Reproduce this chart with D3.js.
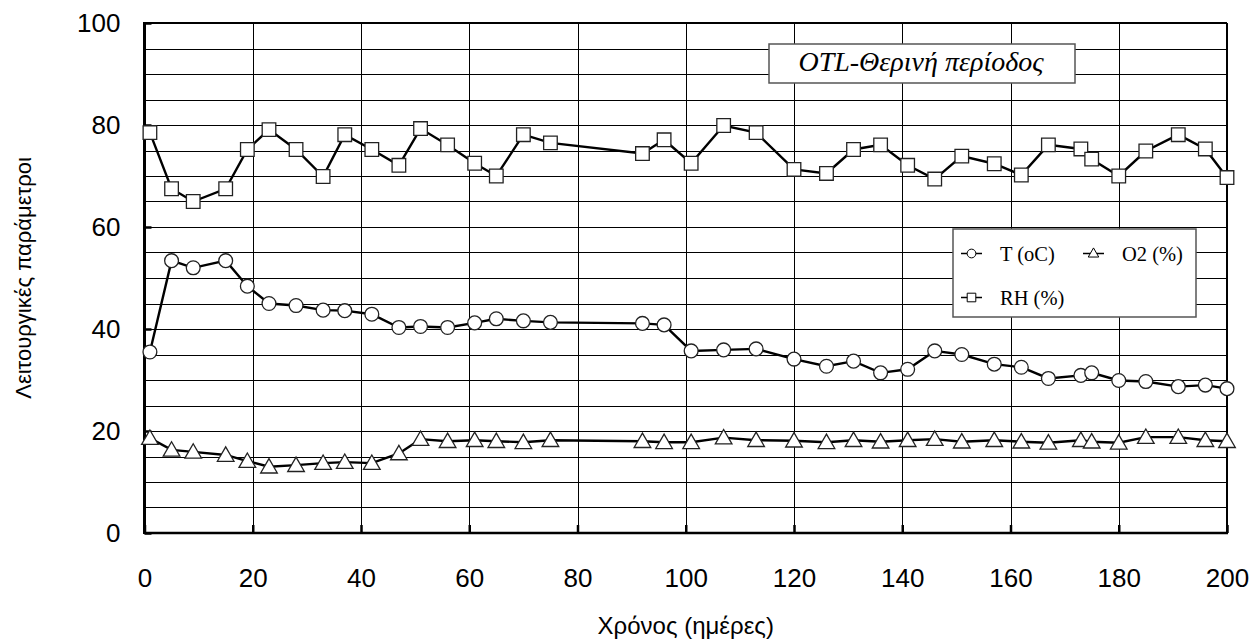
<!DOCTYPE html>
<html>
<head>
<meta charset="utf-8">
<script src="https://cdn.jsdelivr.net/npm/d3@7"></script>
<style>
  body { margin: 0; background: #fff; }
  svg { display: block; }
</style>
</head>
<body>
<svg id="chart" width="1253" height="642"></svg>
<script>
// Sampling days
const days = [1, 5, 9, 15, 19, 23, 28, 33, 37, 42, 47, 51, 56, 61, 65, 70, 75, 92, 96, 101,
  107, 113, 120, 126, 131, 136, 141, 146, 151, 157, 162, 167, 173, 175, 180, 185, 191, 196, 200];

// Temperature (oC)
const tempValues = [35.5, 53.4, 52.0, 53.4, 48.4, 45.0, 44.6, 43.7, 43.6, 42.9, 40.3, 40.5, 40.3, 41.2, 42.0, 41.6, 41.3, 41.1, 40.8, 35.7,
  35.9, 36.1, 34.1, 32.7, 33.7, 31.4, 32.1, 35.7, 35.0, 33.1, 32.5, 30.3, 30.9, 31.4, 29.9, 29.7, 28.7, 29.0, 28.3];

// Oxygen (%)
const o2Values = [18.6, 16.3, 15.9, 15.3, 14.1, 13.0, 13.3, 13.7, 13.9, 13.7, 15.6, 18.4, 18.0, 18.2, 18.0, 17.8, 18.2, 18.0, 17.8, 17.8,
  18.7, 18.2, 18.1, 17.8, 18.2, 17.9, 18.2, 18.4, 17.9, 18.2, 17.9, 17.7, 18.2, 17.9, 17.7, 18.8, 18.8, 18.2, 18.0];

// Relative humidity (%)
const rhValues = [78.5, 67.5, 65.0, 67.5, 75.2, 79.1, 75.2, 69.9, 78.1, 75.2, 72.1, 79.3, 76.1, 72.5, 70.0, 78.1, 76.5, 74.4, 77.1, 72.5,
  79.9, 78.5, 71.3, 70.5, 75.2, 76.1, 72.1, 69.4, 73.9, 72.4, 70.2, 76.1, 75.3, 73.3, 70.0, 74.9, 78.1, 75.3, 69.7];

const xTicks = [0, 20, 40, 60, 80, 100, 120, 140, 160, 180, 200];
const yTicks = [0, 20, 40, 60, 80, 100];
const yGrid = d3.range(5, 100, 5);

const seriesNames = ["T (oC)", "O2 (%)", "RH (%)"];
const titleText = "OTL-Θερινή περίοδος";
const xTitle = "Χρόνος (ημέρες)";
const yTitle = "Λειτουργικές παράμετροι";

const svg = d3.select("#chart");
const plotL = 144.5, plotR = 1227, plotT = 23, plotB = 533;

const x = d3.scaleLinear().domain([0, 200]).range([plotL, plotR]);
const y = d3.scaleLinear().domain([0, 100]).range([plotB, plotT]);

const sansFont = "'Liberation Sans', Arial, sans-serif";
const serifFont = "'Liberation Serif', 'Times New Roman', serif";

// Grid
const grid = svg.append("g");
grid.selectAll("line.h").data(yGrid).join("line")
  .attr("x1", plotL).attr("x2", plotR)
  .attr("y1", d => Math.round(y(d)) + 0.5).attr("y2", d => Math.round(y(d)) + 0.5)
  .attr("stroke", "#000").attr("stroke-width", 1);
grid.selectAll("line.v").data(xTicks.slice(1, -1)).join("line")
  .attr("x1", d => Math.round(x(d)) + 0.5).attr("x2", d => Math.round(x(d)) + 0.5)
  .attr("y1", plotT).attr("y2", plotB)
  .attr("stroke", "#000").attr("stroke-width", 1);

// Axes (inward ticks)
const xAxis = d3.axisBottom(x).tickValues(xTicks).tickSize(-8).tickPadding(36).tickFormat(d3.format("d"));
const yAxis = d3.axisLeft(y).tickValues(yTicks).tickSize(-7).tickPadding(24).tickFormat(d3.format("d"));

const gx = svg.append("g").attr("transform", `translate(0,${plotB})`).call(xAxis);
const gy = svg.append("g").attr("transform", `translate(${plotL},0)`).call(yAxis);
[gx, gy].forEach(g => {
  g.select(".domain").remove();
  g.selectAll(".tick line").attr("stroke", "#000").attr("stroke-width", 2.5);
  g.selectAll(".tick text").attr("font-family", sansFont).attr("font-size", 26).attr("fill", "#000");
});
gy.selectAll(".tick text").attr("dy", "0.34em");

// Plot frame
svg.append("line").attr("x1", plotL).attr("x2", plotR).attr("y1", plotT).attr("y2", plotT)
  .attr("stroke", "#000").attr("stroke-width", 2);
svg.append("line").attr("x1", plotR).attr("x2", plotR).attr("y1", plotT).attr("y2", plotB)
  .attr("stroke", "#000").attr("stroke-width", 2);
svg.append("line").attr("x1", plotL).attr("x2", plotR + 1).attr("y1", plotB).attr("y2", plotB)
  .attr("stroke", "#000").attr("stroke-width", 2.5);
svg.append("line").attr("x1", plotL).attr("x2", plotL).attr("y1", plotT - 1).attr("y2", plotB + 1)
  .attr("stroke", "#000").attr("stroke-width", 3);

// Series
const symbols = [d3.symbolCircle, d3.symbolTriangle, d3.symbolSquare];
const symbolSizes = [150, 120, 185];
const seriesData = [tempValues, o2Values, rhValues];
const line = d3.line().x(d => x(d[0])).y(d => y(d[1]));

seriesData.forEach((vals, i) => {
  const pts = days.map((d, j) => [d, vals[j]]);
  const g = svg.append("g");
  g.append("path").datum(pts).attr("d", line)
    .attr("fill", "none").attr("stroke", "#000").attr("stroke-width", 2.4);
  g.selectAll("path.m").data(pts).join("path")
    .attr("class", "m")
    .attr("d", d3.symbol().type(symbols[i]).size(symbolSizes[i]))
    .attr("transform", d => `translate(${x(d[0])},${y(d[1]) + (i === 1 ? 1.5 : 0)})`)
    .attr("fill", "#fff").attr("stroke", "#222").attr("stroke-width", 1.3);
});

// Title box
const tb = svg.append("g");
tb.append("rect").attr("x", 769).attr("y", 44).attr("width", 306).attr("height", 39)
  .attr("fill", "#fff").attr("stroke", "#555").attr("stroke-width", 1.5);
tb.append("text").attr("x", 921).attr("y", 71).attr("text-anchor", "middle")
  .attr("font-family", serifFont).attr("font-style", "italic").attr("font-size", 28)
  .attr("fill", "#000").text(titleText);

// Legend
const lg = svg.append("g");
lg.append("rect").attr("x", 953).attr("y", 229).attr("width", 243).attr("height", 88)
  .attr("fill", "#fff").attr("stroke", "#555").attr("stroke-width", 1.5);
const legendItems = [
  { x0: 961, y0: 253.5, i: 0 },
  { x0: 1083, y0: 253.5, i: 1 },
  { x0: 961, y0: 297.5, i: 2 }
];
legendItems.forEach(it => {
  lg.append("line").attr("x1", it.x0).attr("x2", it.x0 + 21).attr("y1", it.y0).attr("y2", it.y0)
    .attr("stroke", "#000").attr("stroke-width", 1.5);
  lg.append("path").attr("d", d3.symbol().type(symbols[it.i]).size(symbolSizes[it.i] * 0.4))
    .attr("transform", `translate(${it.x0 + 10.5},${it.y0 + (it.i === 1 ? 0.5 : 0)})`)
    .attr("fill", "#fff").attr("stroke", "#000").attr("stroke-width", 1);
  lg.append("text").attr("x", it.x0 + 39).attr("y", it.y0 + 7)
    .attr("font-family", serifFont).attr("font-size", 20.5).attr("fill", "#000")
    .text(seriesNames[it.i]);
});

// Axis titles
svg.append("text").attr("x", (plotL + plotR) / 2).attr("y", 634).attr("text-anchor", "middle")
  .attr("font-family", sansFont).attr("font-size", 24).attr("fill", "#000").text(xTitle);
svg.append("text").attr("transform", `translate(31,${(plotT + plotB) / 2}) rotate(-90)`)
  .attr("text-anchor", "middle")
  .attr("font-family", sansFont).attr("font-size", 22).attr("fill", "#000").text(yTitle);
</script>
</body>
</html>
